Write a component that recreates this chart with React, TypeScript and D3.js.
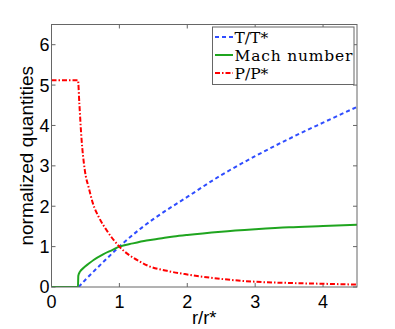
import React from 'react';
import * as d3 from 'd3';

// r/r* sample positions and values
const rT = [0.4, 0.5, 0.6, 0.8, 1.0, 1.3, 1.5, 2.0, 2.5, 3.0, 3.5, 4.0, 4.5];
const tempVals = [0, 0.18, 0.35, 0.68, 1.0, 1.43, 1.68, 2.23, 2.77, 3.24, 3.67, 4.07, 4.46];

const rM = [0, 0.39, 0.395, 0.42, 0.47, 0.55, 0.62, 0.76, 0.9, 1.0, 1.2, 1.4, 1.6, 1.8, 2.0, 2.5, 3.0, 3.5, 4.0, 4.5];
const machVals = [0, 0, 0.28, 0.38, 0.47, 0.58, 0.67, 0.81, 0.92, 1.0, 1.08, 1.15, 1.2, 1.25, 1.29, 1.37, 1.43, 1.48, 1.51, 1.54];

const rP = [0, 0.39, 0.41, 0.44, 0.49, 0.55, 0.61, 0.7, 0.81, 1.0, 1.3, 1.43, 1.7, 2.0, 2.5, 3.0, 3.5, 4.0, 4.5];
const presVals = [5.12, 5.12, 4.55, 3.72, 2.9, 2.45, 2.07, 1.72, 1.41, 1.0, 0.63, 0.52, 0.4, 0.31, 0.2, 0.13, 0.1, 0.08, 0.06];

const xTicks = [0, 1, 2, 3, 4];
const yTicks = [0, 1, 2, 3, 4, 5, 6];

const legendNames = ['T/T*', 'Mach number', 'P/P*'];

const W = 395;
const H = 329;
const margin = { left: 51.5, right: 38, top: 24.5, bottom: 42 };

const App = () => {
  const x = d3.scaleLinear().domain([0, 4.5]).range([margin.left, W - margin.right]);
  const y = d3.scaleLinear().domain([0, 6.5]).range([H - margin.bottom, margin.top]);

  const line = d3.line<[number, number]>()
    .x(d => x(d[0]))
    .y(d => y(d[1]))
    .curve(d3.curveMonotoneX);

  const series = [
    { name: legendNames[0], pts: rT.map((r, i) => [r, tempVals[i]] as [number, number]), color: '#2f4dff', dash: '4,3' },
    { name: legendNames[1], pts: rM.map((r, i) => [r, machVals[i]] as [number, number]), color: '#1fa51f', dash: null },
    { name: legendNames[2], pts: rP.map((r, i) => [r, presVals[i]] as [number, number]), color: '#ff0000', dash: '5,2,1.5,2' },
  ];

  const x0 = x(0), x1 = x(4.5), y0 = y(0), y1 = y(6.5);
  const axisColor = '#666';
  const tickLen = 4;
  const tickFont = 'Liberation Sans, Arial, sans-serif';

  // legend box
  const lg = { x: 212.5, y: 27, w: 141.5, h: 57.5 };
  const rowY = [37, 55, 73];

  return (
    <svg width={W} height={H} style={{ position: 'absolute', left: 0, top: 0, background: '#fff' }}>
      <defs>
        <clipPath id="plot">
          <rect x={x0} y={y1} width={x1 - x0} height={y0 - y1} />
        </clipPath>
      </defs>

      {/* ticks on all four sides, pointing inward */}
      {xTicks.map(t => (
        <g key={'xt' + t} stroke={axisColor} strokeWidth={1}>
          <line x1={x(t)} x2={x(t)} y1={y0} y2={y0 - tickLen} />
          <line x1={x(t)} x2={x(t)} y1={y1} y2={y1 + tickLen} />
        </g>
      ))}
      {yTicks.map(t => (
        <g key={'yt' + t} stroke={axisColor} strokeWidth={1}>
          <line x1={x0} x2={x0 + tickLen} y1={y(t)} y2={y(t)} />
          <line x1={x1} x2={x1 - tickLen} y1={y(t)} y2={y(t)} />
        </g>
      ))}

      <g clipPath="url(#plot)">
        {series.map(s => (
          <path
            key={s.name}
            d={line(s.pts) || ''}
            fill="none"
            stroke={s.color}
            strokeWidth={2}
            strokeDasharray={s.dash || undefined}
          />
        ))}
      </g>

      <rect x={x0} y={y1} width={x1 - x0} height={y0 - y1} fill="none" stroke={axisColor} strokeWidth={1} />

      {xTicks.map(t => (
        <text key={'xl' + t} x={x(t)} y={307.5} textAnchor="middle" fontFamily={tickFont} fontSize={18} fill="#000">
          {t}
        </text>
      ))}
      {yTicks.map(t => (
        <text key={'yl' + t} x={x0 - 2} y={y(t)} dy="0.36em" textAnchor="end" fontFamily={tickFont} fontSize={18} fill="#000">
          {t}
        </text>
      ))}

      <text x={(x0 + x1) / 2} y={323.5} textAnchor="middle" fontFamily={tickFont} fontSize={18.5} fill="#000">
        r/r*
      </text>
      <text
        transform={`translate(33,${(y0 + y1) / 2}) rotate(-90)`}
        textAnchor="middle"
        fontFamily={tickFont}
        fontSize={19}
        fill="#000"
      >
        normalized quantities
      </text>

      <rect x={lg.x} y={lg.y} width={lg.w} height={lg.h} fill="#fff" stroke={axisColor} strokeWidth={1} />
      {series.map((s, i) => (
        <g key={'lg' + s.name}>
          <line x1={215} x2={233} y1={rowY[i]} y2={rowY[i]} stroke={s.color} strokeWidth={2} strokeDasharray={s.dash || undefined} />
          <text
            x={234.5}
            y={rowY[i] + 5.5}
            fontFamily="DejaVu Serif, serif"
            fontSize={15.5}
            fill="#000"
            textLength={i === 1 ? 118 : undefined}
            lengthAdjust="spacing"
          >
            {s.name}
          </text>
        </g>
      ))}
    </svg>
  );
};

export default App;
